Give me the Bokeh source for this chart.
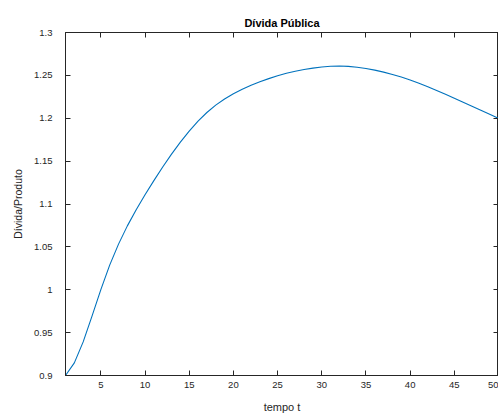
from bokeh.plotting import figure
from bokeh.models import LinearAxis, FixedTicker, Range1d
from bokeh.embed import file_html
from bokeh.resources import INLINE

# Data
t = list(range(1, 51))
divida = [0.9000, 0.9147, 0.9392, 0.9692, 1.0002, 1.0287, 1.0532, 1.0745, 1.0934, 1.1108,
          1.1273, 1.1431, 1.1581, 1.1721, 1.1850, 1.1966, 1.2067, 1.2153, 1.2225, 1.2286,
          1.2338, 1.2384, 1.2425, 1.2462, 1.2495, 1.2524, 1.2548, 1.2568, 1.2585, 1.2598,
          1.2606, 1.2609, 1.2605, 1.2595, 1.2580, 1.2561, 1.2538, 1.2511, 1.2480, 1.2446,
          1.2408, 1.2367, 1.2324, 1.2279, 1.2233, 1.2187, 1.2141, 1.2094, 1.2047, 1.2000]

x_ticks = [5, 10, 15, 20, 25, 30, 35, 40, 45, 50]
y_ticks = [0.9, 0.95, 1.0, 1.05, 1.1, 1.15, 1.2, 1.25, 1.3]
y_tick_labels = ["0.9", "0.95", "1", "1.05", "1.1", "1.15", "1.2", "1.25", "1.3"]

title_text = "Dívida Pública"
x_label = "tempo t"
y_label = "Dívida/Produto"

FONT = "Liberation Sans"
AX_COLOR = "#262626"

p = figure(width=498, height=417, output_backend="svg", toolbar_location=None,
           x_range=Range1d(1, 50), y_range=Range1d(0.9, 1.3),
           min_border_left=65, min_border_right=0, min_border_top=32,
           min_border_bottom=42, x_axis_label=x_label, y_axis_label=y_label)

p.line(t, divida, line_color="#0072BD", line_width=1.1)

p.title.text = title_text
p.title.align = "center"
p.title.text_font = FONT
p.title.text_font_size = "11px"
p.title.text_font_style = "bold"
p.title.text_color = "#000000"
p.title.standoff = 7

p.grid.visible = False
p.outline_line_color = AX_COLOR
p.outline_line_width = 1
p.background_fill_color = "white"
p.border_fill_color = "white"

xa = p.xaxis[0]
ya = p.yaxis[0]
xa.ticker = FixedTicker(ticks=x_ticks)
ya.ticker = FixedTicker(ticks=y_ticks)
ya.major_label_overrides = {v: s for v, s in zip(y_ticks, y_tick_labels)}

for ax in (xa, ya):
    ax.axis_line_color = AX_COLOR
    ax.major_tick_line_color = AX_COLOR
    ax.major_tick_in = 5
    ax.major_tick_out = 0
    ax.minor_tick_line_color = None
    ax.major_label_text_font = FONT
    ax.major_label_text_font_size = "9.5px"
    ax.major_label_text_color = AX_COLOR
    ax.axis_label_text_font = FONT
    ax.axis_label_text_font_style = "normal"
    ax.axis_label_text_color = AX_COLOR

xa.axis_label_text_font_size = "11px"
ya.axis_label_text_font_size = "10.5px"
xa.major_label_standoff = 6
xa.axis_label_standoff = 10
ya.major_label_standoff = 13
ya.axis_label_standoff = 7

for loc in ("above", "right"):
    ax = LinearAxis()
    ax.ticker = FixedTicker(ticks=x_ticks if loc == "above" else y_ticks)
    ax.major_label_text_font_size = "1px"
    ax.major_label_text_color = None
    ax.major_label_standoff = 6 if loc == "above" else 0
    ax.major_tick_in = 5
    ax.major_tick_out = 0
    ax.minor_tick_line_color = None
    ax.axis_line_color = AX_COLOR
    ax.major_tick_line_color = AX_COLOR
    p.add_layout(ax, loc)

open("out.html", "w").write(file_html(p, INLINE))
